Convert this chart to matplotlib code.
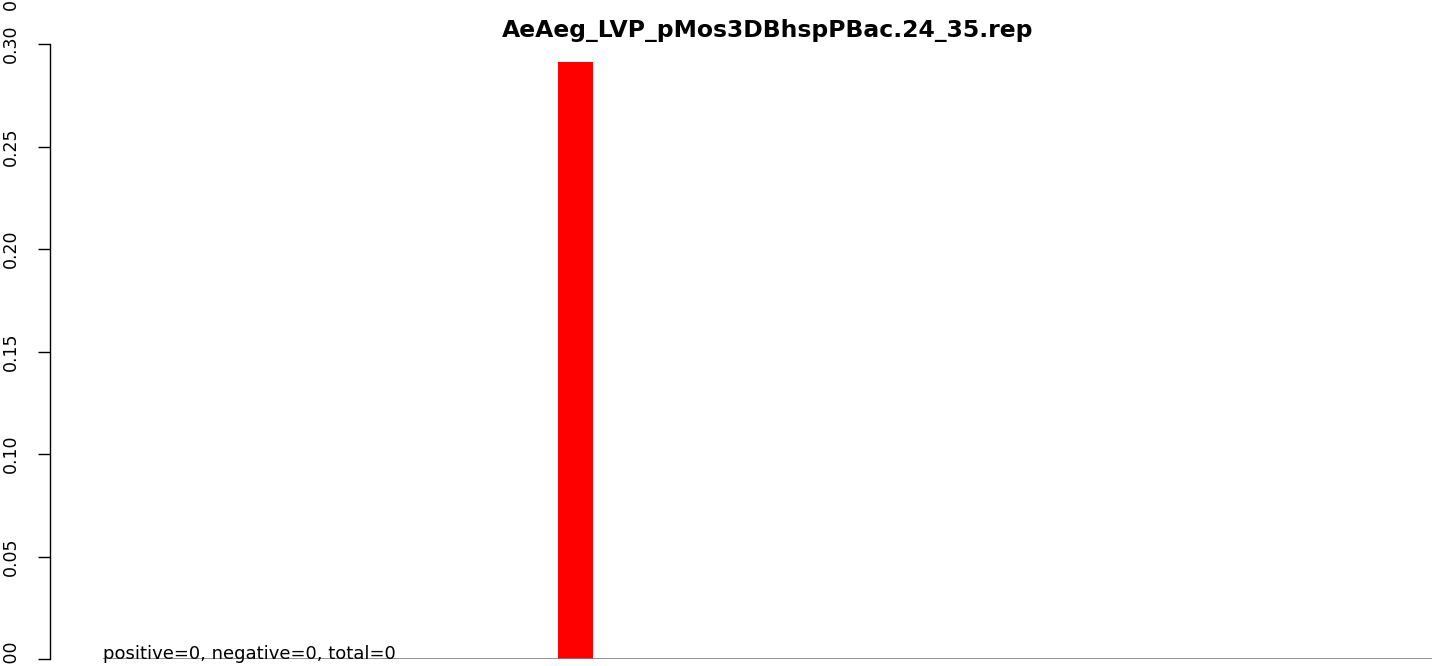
import numpy as np
import matplotlib
matplotlib.use('Agg')
import matplotlib.pyplot as plt

plt.rcParams['font.family'] = ['DejaVu Sans']

title = "AeAeg_LVP_pMos3DBhspPBac.24_35.rep"
note = "positive=0, negative=0, total=0"

# one value per bar slot, only one slot has signal
values = [0.0] * 38
values[13] = 0.291
yticks = [0.00, 0.05, 0.10, 0.15, 0.20, 0.25, 0.30]

W, H = 1444, 666
fig = plt.figure(figsize=(W / 100, H / 100), dpi=100)

# axes box in pixels: y axis at x=50, zero line at y=659
px_per_unit = 1329 / len(values)
x0_px = 103
ax_left, ax_bottom = 50, H - 659
ax = fig.add_axes([ax_left / W, ax_bottom / H, 1 - ax_left / W, 1 - ax_bottom / H])

pos = np.arange(len(values))
ax.bar(pos, values, width=1.0, align='edge', color='#ff0000', edgecolor='none')
ax.plot([0, len(values)], [0, 0], color='#7f7f7f', lw=1.2, solid_capstyle='butt')

ax.set_xlim((ax_left - x0_px) / px_per_unit, (W - x0_px) / px_per_unit)
y_px_per_unit = 615 / 0.30
ax.set_ylim(0, 0.30 + 44 / y_px_per_unit)

for s in ['top', 'right', 'bottom']:
    ax.spines[s].set_visible(False)
ax.spines['left'].set_bounds(0, 0.30)
ax.spines['left'].set_linewidth(1.0)
ax.set_xticks([])
ax.set_yticks(yticks)
ax.set_yticklabels([f"{v:.2f}" for v in yticks], rotation=90, va='center', fontsize=12.5)
ax.tick_params(axis='y', length=8.6, width=1.0, pad=13)

ax.text(0, 0.0, note, fontsize=13, ha='left', va='baseline')
fig.text((50 + 1485) / 2 / W, 1 - 37 / H, title, fontsize=16.9, fontweight='bold',
         ha='center', va='baseline')
# clipped label remnant at the very top left
fig.text(11 / W, 1 - 4 / H, "0", fontsize=12.5, rotation=90, ha='center', va='center')

fig.savefig('out.png', dpi=100)
